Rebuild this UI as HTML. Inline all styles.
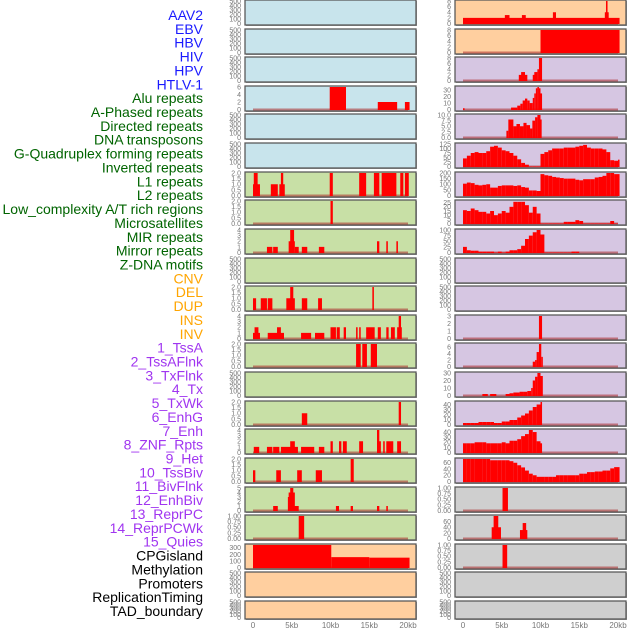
<!DOCTYPE html>
<html><head><meta charset="utf-8"><style>
html,body{margin:0;padding:0;background:#fff;}
svg{display:block;font-family:"Liberation Sans",sans-serif;}
</style></head><body>
<svg id="chart" width="630" height="630" viewBox="0 0 630 630" xmlns="http://www.w3.org/2000/svg"></svg>
<script>
// ---- data ----
const trackLabels=["AAV2","EBV","HBV","HIV","HPV","HTLV-1","Alu repeats","A-Phased repeats","Directed repeats","DNA transposons","G-Quadruplex forming repeats","Inverted repeats","L1 repeats","L2 repeats","Low_complexity A/T rich regions","Microsatellites","MIR repeats","Mirror repeats","Z-DNA motifs","CNV","DEL","DUP","INS","INV","1_TssA","2_TssAFlnk","3_TxFlnk","4_Tx","5_TxWk","6_EnhG","7_Enh","8_ZNF_Rpts","9_Het","10_TssBiv","11_BivFlnk","12_EnhBiv","13_ReprPC","14_ReprPCWk","15_Quies","CPGisland","Methylation","Promoters","ReplicationTiming","TAD_boundary"];
const labelGroups=[6,13,5,15,5];
const xTickLabels=["0","5kb","10kb","15kb","20kb"];
const xTickKb=[0,5,10,15,20];
const T500=[0,100,200,300,400,500];
const T2=[0,0.5,1.0,1.5,2.0];
const T4=[0,1,2,3,4];
const TQ=[0,0.25,0.5,0.75,1.0];
// left column segments [startKb,endKb,value]
const L3=[[9.9,12,6],[16.1,18.6,2],[19.6,20.2,2]];
const L6=[[0,0.9,1],[0.1,0.6,2],[2.3,3.2,1],[3.4,4.1,1],[3.6,3.9,2],[9.9,10.3,2],[13.7,14.6,2],[15.6,16.3,2],[16.6,18.5,2],[19,19.4,2],[19.6,20.1,2]];
const L7=[[10.0,10.3,2]];
const L8=[[1.8,2.5,1],[2.6,3.2,1],[4.6,5.4,2],[4.8,5.3,4],[5.4,5.9,1],[6.3,7.0,1],[8.5,9.2,1],[16,16.3,2],[17.2,17.4,2],[18.5,18.7,2]];
const L10=[[0,0.4,1],[1,1.8,1],[1.9,2.5,1],[4.3,5.4,1],[4.8,5.2,2],[6.3,7.0,1],[8.4,8.9,1],[15.4,15.6,2]];
const L11=[[0,0.9,1],[0.2,0.7,2],[1.9,4.0,1],[3.1,3.6,2],[6.2,7.5,1],[8.0,9.2,1],[10,10.7,2],[10.8,11.2,2],[11.7,12,2],[13.3,13.5,2],[13.7,13.9,2],[14.6,15.7,2],[16.1,16.5,2],[17.2,17.5,2],[17.8,18.3,2],[18.6,19.2,2],[18.8,19.1,4]];
const L12=[[13.3,13.9,2],[14.1,14.7,2],[15.2,16,2]];
const L14=[[6.3,7.0,1],[18.8,19.1,2]];
const L15=[[0.1,0.8,1],[1.8,2.5,1],[2.6,3.4,1],[3.6,5.8,1],[4.8,5.4,2],[6.2,7.9,1],[8.5,9.2,1],[10.0,10.3,2],[11.1,11.4,2],[11.6,12.1,2],[13.7,14.2,2],[16,16.5,2],[16,16.3,4],[16.8,17.0,2],[17.2,18.1,2],[18.6,19.1,2]];
const L16=[[0,0.3,1],[3.0,3.6,1],[5.7,6.3,1],[8.1,8.9,1],[12.6,13,2]];
const L17=[[2.6,3.2,1],[4.5,5.2,3],[4.6,5.4,4],[4.8,5.2,5],[5.2,5.9,1],[10.7,11.1,1],[12.6,12.9,1],[16,16.3,1],[17.2,17.4,1]];
const L18=[[5.9,6.6,1]];
const L19=[[0,10.1,350],[10.1,15,158],[15,20.2,150]];
// right column
const R0=[[0,20.2,2],[5.4,6,3],[7.6,8.1,3],[11.6,12,4],[18.3,18.8,4],[18.45,18.65,8]];
const R1=[[10,20.2,8]];
const R2=[[7.2,8.3,2],[7.5,8,3],[9,9.4,2],[9.2,9.6,3],[9.6,9.8,4],[9.8,10.2,8]];
const R3=[[0,0.2,2],[6.2,7,3],[7,7.4,6],[7.4,7.7,9],[7.7,8,14],[8,8.3,17],[8.3,8.6,14],[8.6,9,10],[9,9.2,18],[9.2,9.4,25],[9.4,9.6,33],[9.6,9.8,35],[9.8,10,33],[10,10.2,25]];
const R4=[[5.6,5.85,3],[5.85,6.5,8],[6.5,6.9,5],[6.9,7.35,6],[7.35,7.8,5],[7.8,8.2,6.5],[8.2,8.65,5.5],[8.65,8.95,4],[8.95,9.3,7.5],[9.3,9.6,9],[9.6,10.0,10],[10.0,10.15,8]];
const R5vals=[45,60,75,80,75,75,85,110,115,105,90,85,75,60,40,20,10,0,0,0,70,80,90,100,100,100,105,105,105,110,115,120,105,100,100,100,95,80,35,32,38];
const R6vals=[105,115,110,95,90,95,100,70,70,85,90,90,90,85,90,75,70,45,45,40,190,180,175,165,160,155,150,150,150,140,135,145,145,145,160,165,175,200,200,190,190];
const R7vals=[16,15,18,16,14,14,12,15,10,12,15,13,20,26,26,26,22,13,20,12,0,0,0,0,0,0,2,2,2,4,3,0,0,0,0,0,0,0,3,0];
const R8vals=[25,10,8,8,4,4,4,4,0,4,0,4,10,10,15,30,60,75,90,100,80,0,0,0,0,0,0,0,4,4];
const R11=[[9.8,10.2,3]];
const R12=[[9,9.3,1.5],[9.3,9.5,2],[9.5,9.8,4.5],[9.8,10.1,7],[10.1,10.3,3]];
const R13=[[2.5,3.2,2],[3.5,4.3,2],[5.5,6,2],[6,6.5,3],[6.5,7.3,4],[7.3,7.8,5],[7.8,8.3,5],[8.3,8.8,6],[8.8,9,10],[9,9.3,20],[9.3,9.6,25],[9.6,10,30],[10,10.3,26]];
const R14vals=[3,3,3,3,5,5,5,5,3,3,6,6,9,9,14,18,22,28,35,40,45];
const R15vals=[18,18,18,20,20,20,18,18,18,18,20,18,23,23,26,32,36,44,40,22,18];
const R16vals=[72,72,72,72,72,72,72,68,68,68,68,68,65,60,52,45,35,25,20,15,15,15,15,15,20,20,20,20,20,20,25,25,30,30,32,32,35,35,42,46,46];
const R17=[[5.1,5.8,1]];
const R18=[[3.7,4.9,40],[3.95,4.55,80],[7.35,8.3,30],[7.7,8.15,55]];
const R19=[[5.1,5.7,1]];
</script>
<script>
const svg=document.getElementById('chart');
const NS="http://www.w3.org/2000/svg";
function mk(tag,attrs,parent){const e=document.createElementNS(NS,tag);for(const k in attrs)e.setAttribute(k,attrs[k]);(parent||svg).appendChild(e);return e;}
function bins(vals,end){const out=[];vals.forEach((v,i)=>{const s=i*0.5;if(s<end)out.push([s,Math.min(s+0.5,end),v]);});return out;}
const BG={b:"#c8e4ec",g:"#c8e0a6",o:"#ffcf9f",p:"#d6c6e2",k:"#cfcfcf"};
const panels=[
 // col, row, bg, ticks, ymax, segs
 [0,0,'b',T500,500,null],[0,1,'b',T500,500,null],[0,2,'b',T500,500,null],
 [0,3,'b',[0,2,4,6],6,L3],[0,4,'b',T500,500,null],[0,5,'b',T500,500,null],
 [0,6,'g',T2,2,L6],[0,7,'g',T2,2,L7],[0,8,'g',T4,4,L8],[0,9,'g',T500,500,null],
 [0,10,'g',T2,2,L10],[0,11,'g',T4,4,L11],[0,12,'g',T2,2,L12],[0,13,'g',T500,500,null],
 [0,14,'g',T2,2,L14],[0,15,'g',T4,4,L15],[0,16,'g',T2,2,L16],[0,17,'g',[0,1,2,3,4,5],5,L17],
 [0,18,'g',TQ,1,L18],[0,19,'o',[0,100,200,300],343,L19],[0,20,'o',T500,500,null],[0,21,'o',T500,500,null],
 [1,0,'o',[0,2,4,6,8],8,R0],[1,1,'o',[0,2,4,6,8],8,R1],[1,2,'p',[0,2,4,6,8],8,R2],
 [1,3,'p',[0,10,20,30],35,R3],[1,4,'p',[0,2.5,5.0,7.5,10.0],10,R4],
 [1,5,'p',[0,25,50,75,100,125],125,bins(R5vals,20.2)],[1,6,'p',[0,50,100,150,200],200,bins(R6vals,20.2)],
 [1,7,'p',[0,5,10,15,20,25],27,bins(R7vals,20.2)],[1,8,'p',[0,25,50,75,100],100,bins(R8vals,20.2)],
 [1,9,'p',T500,500,null],[1,10,'p',T500,500,null],[1,11,'p',[0,1,2,3],3,R11],
 [1,12,'p',[0,2,4,6],7,R12],[1,13,'p',[0,10,20,30],30,R13],[1,14,'p',[0,10,20,30,40],45,bins(R14vals,10.2)],
 [1,15,'p',[0,10,20,30,40],44,bins(R15vals,10.2)],[1,16,'p',[0,20,40,60],72,bins(R16vals,20.2)],
 [1,17,'k',TQ,1,R17],[1,18,'k',[0,20,40,60],80,R18],[1,19,'k',TQ,1,R19],
 [1,20,'k',T500,500,null],[1,21,'k',T500,500,null]
];
const FX=[245,455], FW=171, X0=[253,463], KB=7.75;
const fmt=(t,ticks)=>{const dec=ticks.some(v=>Math.round(v*100)%100!==0 && Math.round(v*100)%50===0 && ticks.includes(0.25))?2:(ticks.some(v=>v%1!==0)?(ticks.includes(2.5)?1:1):0);return dec?t.toFixed(dec):String(t);};
panels.forEach(([c,r,bg,ticks,ymax,segs])=>{
  const T=Math.round(r*28.62), H=(r===21)?18:25, X=FX[c];
  const g=mk('g',{});
  
  
  mk('rect',{x:X+1,y:T+1,width:FW,height:H,fill:'#9a9a9a'},g);
  mk('rect',{x:X,y:T,width:FW,height:H,fill:BG[bg],stroke:'#5a5a5a','stroke-width':1.3},g);
  const y=v=>T+H-1.5-v/ymax*(H-2.5);
  const x=k=>X0[c]+k*KB;
  ticks.forEach(t=>{
    const tx=mk('text',{x:X-4,y:y(t)+2.4,'text-anchor':'end','font-size':7,fill:'#777'},g);
    
    
    tx.textContent=ticks.includes(0.25)?t.toFixed(2):(ticks.includes(0.5)||ticks.includes(2.5)?t.toFixed(1):String(t));
  });
  if(segs){
    mk('line',{x1:x(0),x2:x(20),y1:y(0),y2:y(0),stroke:'rgba(170,40,40,0.55)','stroke-width':2},g);
    segs.forEach(([s,e,v])=>{
      const vv=Math.min(v,ymax);
      const b=mk('rect',{x:x(s),y:y(vv),width:Math.max(0.8,x(e)-x(s)),height:Math.max(0,y(0)-y(vv)+0.5),fill:'#ff0000'},g);
      
      
    });
  }
});
// x axis
[0,1].forEach(c=>{
  xTickKb.forEach((k,i)=>{
    const t=mk('text',{x:X0[c]+k*KB,y:628,'text-anchor':'middle','font-size':8,fill:'#777'});
    
    
    t.textContent=xTickLabels[i];
  });
});
// labels
const colors=["#1a1aff","#006400","#ffa500","#a035f0","#000000"];
let gi=0,cnt=0;
trackLabels.forEach((lab,i)=>{
  while(cnt>=labelGroups[gi]){gi++;cnt=0;}
  cnt++;
  const t=mk('text',{x:203,y:15+i*13.86+5,'text-anchor':'end','font-size':14,fill:colors[gi]});
  
  
  t.textContent=lab;
});
</script>
</body></html>
